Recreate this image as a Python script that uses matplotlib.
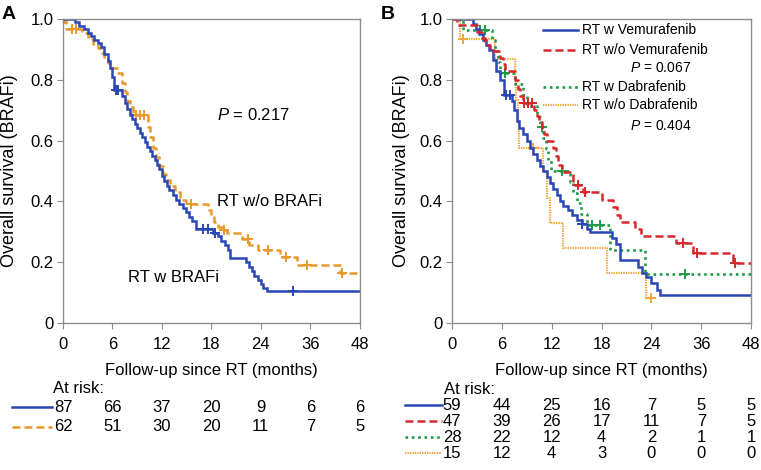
import matplotlib
matplotlib.use('Agg')
import matplotlib.pyplot as plt
import matplotlib.transforms as mtransforms
from matplotlib.lines import Line2D
import numpy as np

plt.rcParams['font.family'] = ['Liberation Sans', 'DejaVu Sans']
plt.rcParams['mathtext.fontset'] = 'custom'
plt.rcParams['mathtext.it'] = 'Liberation Sans:italic'
plt.rcParams['mathtext.rm'] = 'Liberation Sans'

# ---- data (months, survival) ----
xticks = [0, 6, 12, 18, 24, 36, 48]
yticks = [0, 0.2, 0.4, 0.6, 0.8, 1.0]
ytick_labels = ['0', '0.2', '0.4', '0.6', '0.8', '1.0']

# panel A: RT w BRAFi
a_w_t = [1.4, 2.0, 2.5, 3.0, 3.4, 3.8, 4.2, 4.6, 5.0, 5.4, 5.7, 6.0, 6.2, 7.2, 7.5, 7.8,
         8.1, 8.4, 8.7, 9.0, 9.3, 9.6, 9.9, 10.2, 10.5, 10.8, 11.1, 11.4, 11.7, 12.0,
         12.3, 12.6, 12.9, 13.3, 13.7, 14.1, 14.5, 14.9, 15.3, 15.7, 16.1, 18.2, 18.8,
         19.2, 19.6, 20.0, 20.2, 22.2, 22.6, 22.9, 23.2, 23.6, 24.0, 24.5, 25.4]
a_w_s = [0.989, 0.977, 0.966, 0.954, 0.943, 0.931, 0.92, 0.908, 0.885, 0.862, 0.839, 0.81,
         0.767, 0.745, 0.725, 0.705, 0.685, 0.67, 0.655, 0.64, 0.625, 0.61, 0.595, 0.58,
         0.565, 0.55, 0.535, 0.52, 0.505, 0.485, 0.468, 0.452, 0.436, 0.42, 0.405, 0.39,
         0.378, 0.365, 0.35, 0.335, 0.31, 0.295, 0.285, 0.27, 0.255, 0.24, 0.214, 0.2,
         0.185, 0.17, 0.155, 0.14, 0.128, 0.116, 0.106]
a_w_cens = [6.4, 6.7, 17.0, 17.6, 18.4, 31.8]

# panel A: RT w/o BRAFi
a_wo_t = [0.4, 2.3, 3.0, 3.6, 4.2, 4.6, 5.0, 5.5, 5.8, 6.7, 7.2, 7.5, 7.8, 8.1, 8.5, 10.3,
          10.6, 10.9, 11.3, 11.7, 12.1, 12.5, 13.0, 13.6, 14.2, 14.9, 17.6, 17.9, 18.3,
          18.8, 19.3, 19.9, 21.7, 22.6, 23.6, 28.6, 32.7, 43.1]
a_wo_s = [0.968, 0.952, 0.935, 0.919, 0.903, 0.887, 0.871, 0.855, 0.84, 0.823, 0.79, 0.76,
          0.73, 0.71, 0.685, 0.645, 0.61, 0.575, 0.545, 0.515, 0.49, 0.47, 0.45, 0.43,
          0.405, 0.39, 0.37, 0.35, 0.333, 0.315, 0.305, 0.296, 0.275, 0.258, 0.24, 0.217,
          0.19, 0.164]
a_wo_cens = [0.3, 1.1, 1.6, 8.9, 9.3, 9.8, 15.5, 19.5, 22.4, 25.7, 30.1, 35.1, 43.8]

# panel B: RT w Vemurafenib
b_vw_t = [2.5, 2.9, 3.3, 3.7, 4.1, 4.5, 4.9, 5.3, 5.8, 6.2, 7.2, 7.5, 7.8, 8.1, 8.5, 9.0,
          9.4, 9.8, 10.2, 10.6, 11.0, 11.4, 11.8, 12.2, 12.6, 13.0, 13.4, 13.9, 14.4, 15.0,
          15.6, 16.2, 16.6, 19.2, 19.7, 20.2, 22.4, 22.9, 23.4, 23.9, 25.4, 26.1]
b_vw_s = [0.983, 0.966, 0.949, 0.932, 0.915, 0.898, 0.864, 0.83, 0.80, 0.75, 0.73, 0.70,
          0.665, 0.64, 0.62, 0.60, 0.575, 0.555, 0.535, 0.515, 0.50, 0.48, 0.46, 0.44, 0.42,
          0.40, 0.385, 0.37, 0.355, 0.34, 0.325, 0.31, 0.30, 0.28, 0.26, 0.207, 0.185,
          0.165, 0.15, 0.13, 0.11, 0.092]
b_vw_cens = [6.5, 7.0, 15.7]

# panel B: RT w/o Vemurafenib
b_vwo_t = [0.6, 3.0, 3.6, 4.0, 4.6, 5.8, 6.1, 6.4, 7.6, 7.9, 8.2, 8.5, 9.9, 10.2, 10.5,
           10.8, 11.1, 11.4, 12.2, 12.5, 12.8, 13.2, 14.6, 15.8, 18.1, 19.4, 19.8, 20.2,
           22.0, 22.7, 29.8, 34.1, 43.7]
b_vwo_s = [0.979, 0.957, 0.936, 0.915, 0.894, 0.872, 0.851, 0.83, 0.80, 0.77, 0.745, 0.724,
           0.70, 0.68, 0.66, 0.64, 0.62, 0.60, 0.575, 0.55, 0.52, 0.497, 0.455, 0.43, 0.405,
           0.38, 0.355, 0.333, 0.31, 0.286, 0.263, 0.23, 0.197]
b_vwo_cens = [8.7, 9.1, 9.6, 15.2, 16.0, 31.6, 34.9, 44.2]

# panel B: RT w Dabrafenib
b_dw_t = [1.3, 4.8, 5.2, 5.5, 5.8, 7.6, 8.6, 9.0, 10.2, 10.6, 11.0, 11.3, 11.6, 11.9, 14.2,
          14.6, 15.0, 15.5, 16.2, 19.0, 23.2]
b_dw_s = [0.964, 0.929, 0.893, 0.857, 0.821, 0.786, 0.75, 0.714, 0.679, 0.643, 0.607,
          0.571, 0.536, 0.50, 0.464, 0.429, 0.393, 0.357, 0.321, 0.241, 0.16]
b_dw_cens = [3.4, 4.0, 6.4, 10.8, 13.2, 16.9, 17.8, 32.2]

# panel B: RT w/o Dabrafenib
b_dwo_t = [1.0, 5.2, 7.6, 7.75, 7.9, 8.05, 11.0, 11.4, 11.8, 13.3, 18.7, 23.3]
b_dwo_s = [0.933, 0.867, 0.80, 0.733, 0.667, 0.575, 0.50, 0.41, 0.33, 0.247, 0.164, 0.082]
b_dwo_cens = [1.3, 9.8, 23.9]

risk_a = [[87, 66, 37, 20, 9, 6, 6],
          [62, 51, 30, 20, 11, 7, 5]]
risk_b = [[59, 44, 25, 16, 7, 5, 5],
          [47, 39, 26, 17, 11, 7, 5],
          [28, 22, 12, 4, 2, 1, 1],
          [15, 12, 4, 3, 0, 0, 0]]

blue = '#2b47b5'
orange = '#e8992e'
red = '#d6282b'
green = '#1f9a45'
orange2 = '#f2a53a'

sty_blue = dict(color=blue, lw=1.8, ls='-')
sty_orange_a = dict(color=orange, lw=1.8, dashes=(3.2, 1.6))
sty_red = dict(color=red, lw=1.8, dashes=(3.2, 1.6))
sty_green = dict(color=green, lw=1.9, dashes=(1.0, 1.4))
sty_orange_b = dict(color=orange2, lw=1.6, dashes=(0.6, 0.5))

FS = 12


def fwd(x):
    x = np.asarray(x, float)
    return np.where(x <= 24, x / 6, 4 + (x - 24) / 12)


def inv(u):
    u = np.asarray(u, float)
    return np.where(u <= 4, u * 6, 24 + (u - 4) * 12)


def km(ax, times, surv, cens, end, sty):
    t = np.array([0] + times + [end])
    s = np.array([1.0] + surv + [surv[-1]])
    ax.step(t, s, where='post', solid_joinstyle='miter', **sty)
    c = np.array(cens)
    cy = s[np.searchsorted(t, c, side='right') - 1]
    ax.plot(c, cy, ls='none', marker='+', ms=7, mew=1.4, color=sty['color'])


def setup(ax, lab_x):
    ax.set_xscale('function', functions=(fwd, inv))
    ax.set_xlim(0, 48)
    ax.set_ylim(0, 1.0)
    ax.set_xticks(xticks)
    ax.set_xticklabels([str(v) for v in xticks])
    ax.set_yticks(yticks)
    ax.set_yticklabels(ytick_labels)
    ax.minorticks_off()
    for sp in ax.spines.values():
        sp.set_color('#8c8c8c')
        sp.set_linewidth(1.0)
    ax.tick_params(direction='out', length=4, color='#8c8c8c', labelsize=FS, pad=3)
    ax.tick_params(axis='x', pad=6)
    ax.set_xlabel('Follow-up since RT (months)', fontsize=FS, labelpad=8)
    ax.set_ylabel('Overall survival (BRAFi)', fontsize=13)
    ax.yaxis.set_label_coords(lab_x, 0.5)


fig = plt.figure(figsize=(7.61, 4.70), dpi=100)
axA = fig.add_axes([0.0828, 0.3128, 0.390, 0.647])
axB = fig.add_axes([0.594, 0.3128, 0.393, 0.647])

setup(axA, -0.151)
setup(axB, -0.142)

km(axA, a_wo_t, a_wo_s, a_wo_cens, 48, sty_orange_a)
km(axA, a_w_t, a_w_s, a_w_cens, 48, sty_blue)

km(axB, b_dwo_t, b_dwo_s, b_dwo_cens, 23.9, sty_orange_b)
km(axB, b_dw_t, b_dw_s, b_dw_cens, 48, sty_green)
km(axB, b_vw_t, b_vw_s, b_vw_cens, 48, sty_blue)
km(axB, b_vwo_t, b_vwo_s, b_vwo_cens, 48, sty_red)

# panel A annotations
axA.text(0.518, 0.684, r'$P$ = 0.217', transform=axA.transAxes, fontsize=FS, va='center')
axA.text(0.518, 0.398, 'RT w/o BRAFi', transform=axA.transAxes, fontsize=FS, va='center')
axA.text(0.219, 0.151, 'RT w BRAFi', transform=axA.transAxes, fontsize=FS, va='center')

# panel B legend (drawn by hand, p-values between entries)
leg_rows = [('RT w Vemurafenib', sty_blue, 0.964),
            ('RT w/o Vemurafenib', sty_red, 0.898),
            ('RT w Dabrafenib', sty_green, 0.776),
            ('RT w/o Dabrafenib', sty_orange_b, 0.717)]
for name, sty, yy in leg_rows:
    axB.add_line(Line2D([0.304, 0.421], [yy, yy], transform=axB.transAxes, **sty))
    axB.text(0.435, yy, name, transform=axB.transAxes, fontsize=10, va='center')
axB.text(0.595, 0.838, r'$P$ = 0.067', transform=axB.transAxes, fontsize=10, va='center')
axB.text(0.595, 0.648, r'$P$ = 0.404', transform=axB.transAxes, fontsize=10, va='center')

# panel letters
fig.text(0.011, 0.97, 'A', fontsize=14, fontweight='bold', ha='center', va='center')
fig.text(0.51, 0.97, 'B', fontsize=14, fontweight='bold', ha='center', va='center')

# at-risk tables
def risk_table(ax, rows, stys, ys, head_y, head_x, line_x):
    tr = mtransforms.blended_transform_factory(ax.transData, fig.transFigure)
    fig.text(head_x, head_y, 'At risk:', fontsize=FS, va='center')
    for vals, sty, yy in zip(rows, stys, ys):
        fig.add_artist(Line2D(line_x, [yy, yy], transform=fig.transFigure, **sty))
        for xv, n in zip(xticks, vals):
            ax.text(xv, yy, str(n), transform=tr, fontsize=FS, ha='center', va='center',
                    clip_on=False)


risk_table(axA, risk_a, [sty_blue, sty_orange_a], [0.134, 0.0915], 0.174, 0.070,
           [0.016, 0.068])
risk_table(axB, risk_b, [sty_blue, sty_red, sty_green, sty_orange_b],
           [0.138, 0.104, 0.070, 0.036], 0.172, 0.583, [0.532, 0.581])

fig.savefig('out.png', dpi=100)
